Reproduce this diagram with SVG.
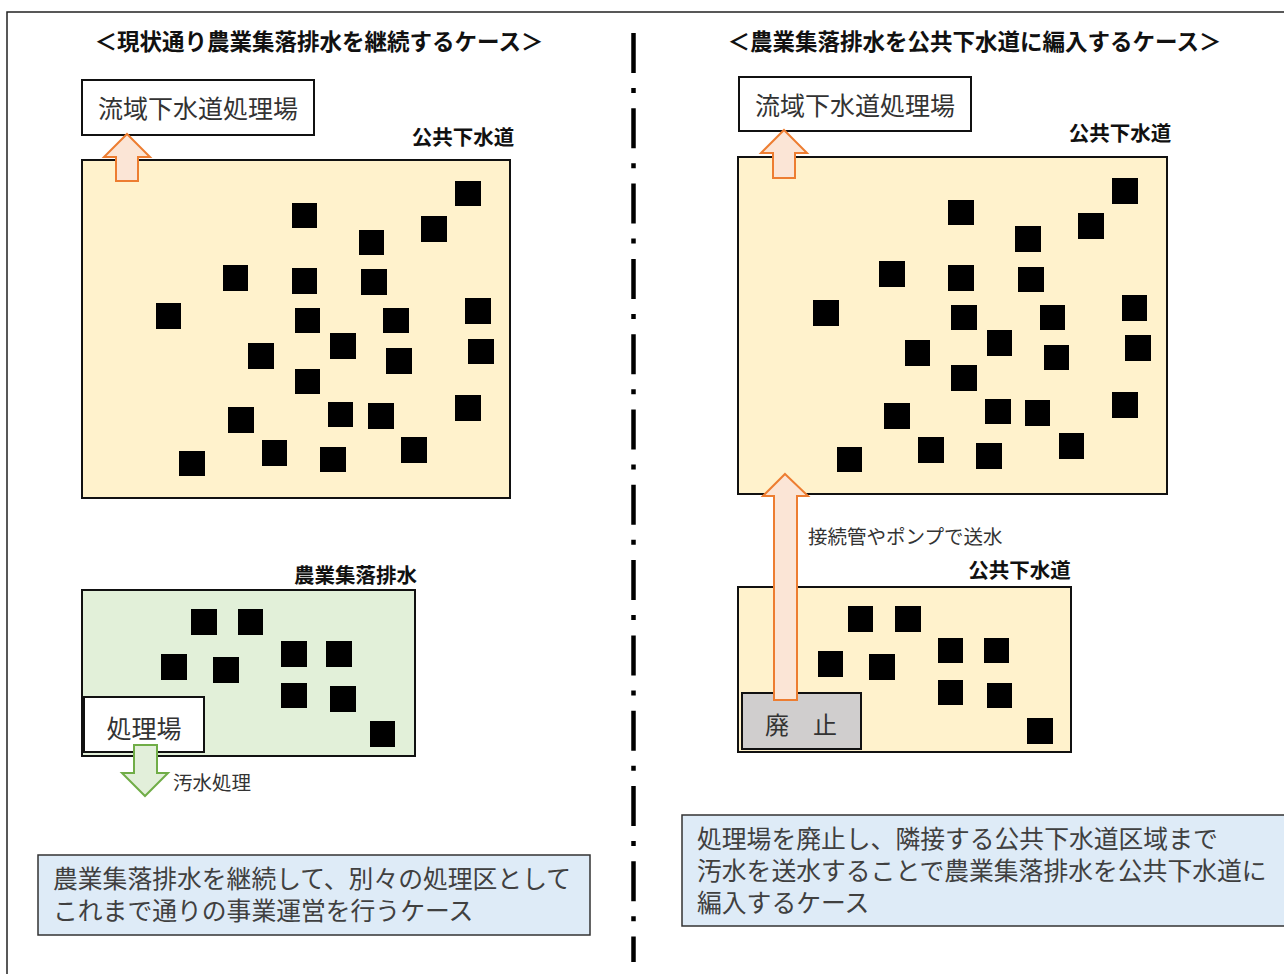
<svg xmlns="http://www.w3.org/2000/svg" width="1284" height="974" viewBox="0 0 1284 974">
<style>
text{font-family:"Noto Sans CJK JP","Noto Sans CJK SC",sans-serif;}
.title{font-size:22.5px;font-weight:700;fill:#111;text-anchor:middle;}
.lbl{font-size:20.5px;font-weight:700;fill:#111;text-anchor:middle;}
.box{font-size:25px;fill:#333;text-anchor:middle;}
.small{font-size:19.5px;fill:#333;}
.note{font-size:24.8px;fill:#404040;}
.area{fill:#FFF2CC;stroke:#111;stroke-width:2;}
.green{fill:#E2F0D9;stroke:#111;stroke-width:2;}
.wbox{fill:#fff;stroke:#111;stroke-width:2;}
.gbox{fill:#D0CECE;stroke:#111;stroke-width:2;}
.nbox{fill:#DEEBF7;stroke:#333;stroke-width:1.5;}
.h{fill:#000;}
.oarr{fill:#FBE5D6;stroke:#ED7D31;stroke-width:2;stroke-linejoin:miter;}
.garr{fill:#E2EFDA;stroke:#70AD47;stroke-width:2;}
</style>
<rect width="1284" height="974" fill="#fff"/>
<g id="frame"><rect x="7" y="12" width="1300" height="1000" fill="none" stroke="#222" stroke-width="1.5"/></g>
<g id="divider"><line x1="633.5" y1="33" x2="633.5" y2="962" stroke="#000" stroke-width="4.5" stroke-dasharray="40 15 5 15.3"/></g>

<g id="title-left"><text class="title" x="319" y="49.5">＜現状通り農業集落排水を継続するケース＞</text></g>
<g id="title-right"><text class="title" x="974.5" y="49.5">＜農業集落排水を公共下水道に編入するケース＞</text></g>

<g id="left-plant"><rect class="wbox" x="82" y="80" width="232" height="55"/><text class="box" x="198" y="117.5">流域下水道処理場</text></g>
<g id="left-public-sewer">
<text class="lbl" x="463" y="145">公共下水道</text>
<rect class="area" x="82" y="160" width="428" height="338"/>
<g class="h">
<rect x="455" y="181" width="26" height="25"/><rect x="292" y="203" width="25" height="25"/><rect x="421" y="216" width="26" height="26"/><rect x="359" y="230" width="25" height="25"/>
<rect x="223" y="265" width="25" height="26"/><rect x="292" y="268" width="25" height="26"/><rect x="361" y="269" width="26" height="26"/><rect x="156" y="303" width="25" height="26"/>
<rect x="295" y="308" width="25" height="25"/><rect x="383" y="308" width="26" height="25"/><rect x="465" y="298" width="26" height="26"/><rect x="330" y="333" width="26" height="26"/>
<rect x="248" y="343" width="26" height="26"/><rect x="386" y="348" width="26" height="26"/><rect x="468" y="339" width="26" height="25"/><rect x="295" y="369" width="25" height="25"/>
<rect x="228" y="407" width="26" height="26"/><rect x="328" y="402" width="25" height="25"/><rect x="368" y="403" width="26" height="26"/><rect x="455" y="395" width="26" height="26"/>
<rect x="179" y="451" width="26" height="25"/><rect x="262" y="440" width="25" height="26"/><rect x="320" y="447" width="26" height="25"/><rect x="401" y="437" width="26" height="26"/>
</g>
</g>
<g id="left-rural">
<text class="lbl" x="355.5" y="583">農業集落排水</text>
<rect class="green" x="82" y="590" width="333" height="166"/>
<g class="h">
<rect x="191" y="609" width="26" height="26"/><rect x="238" y="609" width="25" height="26"/><rect x="161" y="654" width="26" height="26"/>
<rect x="213" y="657" width="26" height="26"/><rect x="281" y="641" width="26" height="26"/><rect x="326" y="641" width="26" height="26"/>
<rect x="281" y="683" width="26" height="25"/><rect x="330" y="686" width="26" height="26"/><rect x="370" y="721" width="25" height="26"/>
</g>
</g>
<g id="left-local-plant"><rect class="wbox" x="84" y="697" width="120" height="55"/><text class="box" x="144" y="737.5">処理場</text></g>
<g id="left-note"><rect class="nbox" x="38" y="855" width="552" height="80"/>
<text class="note" x="53" y="887.5">農業集落排水を継続して、別々の処理区として</text>
<text class="note" x="53" y="919.5">これまで通りの事業運営を行うケース</text></g>

<g id="right-plant"><rect class="wbox" x="739" y="77" width="232" height="54"/><text class="box" x="855" y="114.5">流域下水道処理場</text></g>
<g id="right-public-sewer">
<text class="lbl" x="1120" y="141">公共下水道</text>
<rect class="area" x="738" y="157" width="429" height="337"/>
<g class="h">
<rect x="1112" y="178" width="26" height="26"/><rect x="948" y="200" width="26" height="25"/><rect x="1078" y="213" width="26" height="26"/><rect x="1015" y="226" width="26" height="26"/>
<rect x="879" y="261" width="26" height="26"/><rect x="948" y="265" width="26" height="26"/><rect x="1018" y="267" width="26" height="25"/><rect x="813" y="300" width="26" height="26"/>
<rect x="951" y="305" width="26" height="25"/><rect x="1040" y="305" width="25" height="25"/><rect x="1122" y="295" width="25" height="26"/><rect x="987" y="330" width="25" height="26"/>
<rect x="905" y="340" width="25" height="26"/><rect x="1044" y="345" width="25" height="25"/><rect x="1125" y="335" width="26" height="26"/><rect x="951" y="365" width="26" height="26"/>
<rect x="884" y="403" width="26" height="26"/><rect x="985" y="399" width="26" height="25"/><rect x="1025" y="400" width="25" height="26"/><rect x="1112" y="392" width="26" height="26"/>
<rect x="837" y="447" width="25" height="25"/><rect x="918" y="437" width="26" height="26"/><rect x="976" y="443" width="26" height="26"/><rect x="1059" y="433" width="25" height="26"/>
</g>
</g>
<g id="right-rural">
<text class="lbl" x="1019.5" y="578">公共下水道</text>
<rect class="area" x="738" y="587" width="333" height="165"/>
<g class="h">
<rect x="848" y="606" width="25" height="26"/><rect x="895" y="606" width="26" height="26"/><rect x="818" y="651" width="25" height="26"/>
<rect x="869" y="654" width="26" height="26"/><rect x="938" y="638" width="25" height="25"/><rect x="984" y="638" width="25" height="25"/>
<rect x="938" y="680" width="25" height="25"/><rect x="987" y="683" width="25" height="25"/><rect x="1027" y="718" width="26" height="26"/>
</g>
</g>
<g id="right-abolished"><rect class="gbox" x="742" y="693" width="119" height="56"/><text class="box" x="801" y="734" style="font-size:24px">廃　止</text></g>
<g id="right-note"><rect class="nbox" x="682" y="815" width="610" height="111"/>
<text class="note" x="697" y="847.5">処理場を廃止し、隣接する公共下水道区域まで</text>
<text class="note" x="697" y="879.5">汚水を送水することで農業集落排水を公共下水道に</text>
<text class="note" x="697" y="911.5">編入するケース</text></g>

<g id="connectors">
<polygon class="oarr" points="127,134 150,157 138,157 138,181 116,181 116,157 104,157"/>
<polygon class="garr" points="134,745 157,745 157,773 168,773 145,796 122,773 134,773"/>
<text class="small" x="173" y="789.5">汚水処理</text>
<polygon class="oarr" points="784,130 807,153 795,153 795,178 773,178 773,153 761,153"/>
<polygon class="oarr" points="785,474 808,496 797,496 797,700 774,700 774,496 763,496"/>
<text class="small" x="808" y="544">接続管やポンプで送水</text>
</g>
</svg>
